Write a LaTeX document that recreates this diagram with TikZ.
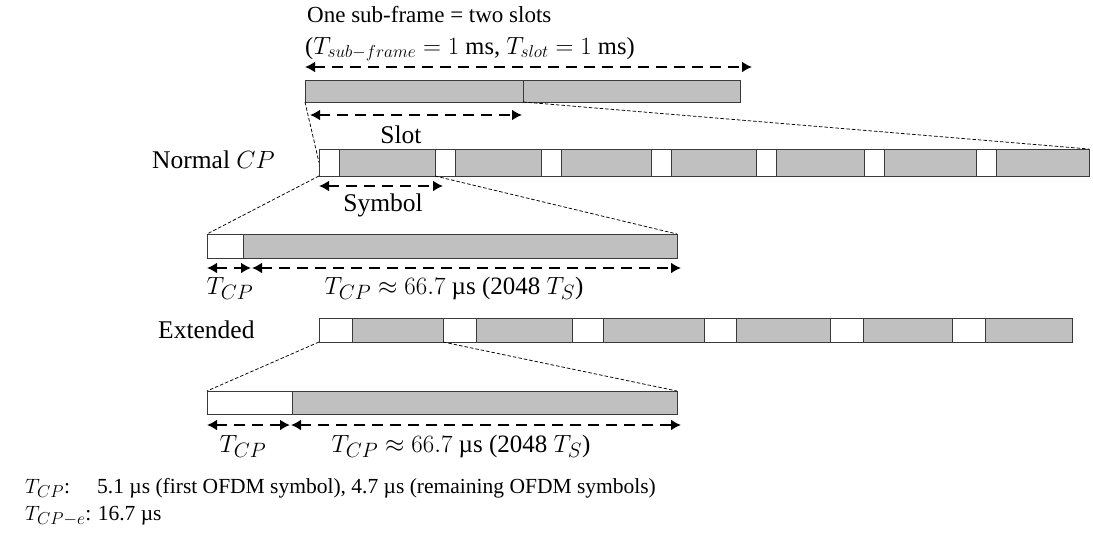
\documentclass[tikz,border=0pt]{standalone}
\usepackage{fontspec}
\setmainfont{Liberation Serif}
\usetikzlibrary{arrows.meta}
% larger sub- and superscripts for the labels
\DeclareMathSizes{21.5}{21.5}{16.5}{12.5}
\DeclareMathSizes{24.5}{24.5}{19}{14}
\DeclareMathSizes{25}{25}{19.5}{14.5}
\DeclareMathSizes{25.5}{25.5}{19.5}{14.5}
\definecolor{boxgray}{HTML}{C0C0C0}
\definecolor{edgegray}{HTML}{3A3A3A}
\tikzset{
  cell/.style={draw=edgegray, line width=0.9pt, inner sep=0pt, outer sep=0pt},
  cpbox/.style={cell, fill=white},
  databox/.style={cell, fill=boxgray},
  zoomline/.style={line width=0.75pt, dash pattern=on 3.5pt off 2pt},
  dimarrow/.style={line width=2pt, dash pattern=on 11pt off 7pt,
    {Latex[length=10pt,width=11pt]}-{Latex[length=10pt,width=11pt]}},
  lbl/.style={inner sep=0pt, font=\fontsize{23}{27}\selectfont},
  rowlbl/.style={inner sep=0pt, font=\fontsize{25.5}{30}\selectfont},
  dimlbl/.style={inner sep=0pt, font=\fontsize{25}{30}\selectfont},
  notelbl/.style={inner sep=0pt, font=\fontsize{21.5}{26}\selectfont},
}
% a rectangle node spanning x1..x2, y1..y2
\newcommand\cellbox[6]{%
  \node[#6, minimum width={(#3)-(#2)}, minimum height={(#5)-(#4)}]
    (#1) at ({((#2)+(#3))/2},{((#4)+(#5))/2}) {};}
\begin{document}
\begin{tikzpicture}[x=1pt, y=-1pt]
\useasboundingbox (0,0) rectangle (1093,546);

% sub-frame made of two slots
\cellbox{sfA}{305}{523}{80}{102}{databox}
\cellbox{sfB}{523}{740}{80}{102}{databox}
\node[lbl, anchor=base west] (sftitle) at (307,22) {One sub-frame = two slots};
\node[lbl, anchor=base west, font=\fontsize{24.5}{29}\selectfont] (sfdur) at (305,54)
  {($T_{sub-frame}=1$ ms, $T_{slot}=1$ ms)};
\coordinate (sfL) at (305,67);
\coordinate (sfR) at (752,67);
\draw[dimarrow] (sfL) -- (sfR);
\coordinate (slL) at (310,115);
\coordinate (slR) at (522,115);
\draw[dimarrow] (slL) -- (slR);
\node[rowlbl, anchor=base] (slotlbl) at (401,143) {Slot};

% normal cyclic prefix: seven symbols per slot
\foreach \a/\b/\c [count=\i] in {319/339/435, 435/455/541, 541/561/651,
    651/671/756, 756/776/864, 864/884/976, 976/996/1089}{
  \cellbox{dN\i}{\b}{\c}{149}{176}{databox}
  \cellbox{cpN\i}{\a}{\b}{149}{176}{cpbox}
}
\node[rowlbl, anchor=base west] (normallbl) at (152,168) {Normal $CP$};
\draw[zoomline] (sfA.south west) -- (cpN1.west);
\draw[zoomline] (sfA.south east) -- (dN7.north east);
\coordinate (syL) at (319,186);
\coordinate (syR) at (443,186);
\draw[dimarrow] (syL) -- (syR);
\node[rowlbl, anchor=base] (symlbl) at (383,211) {Symbol};

% one normal-CP symbol
\cellbox{zdN}{243}{677}{234}{258}{databox}
\cellbox{zcpN}{207}{243}{234}{258}{cpbox}
\draw[zoomline] (cpN1.south west) -- (zcpN.north west);
\draw[zoomline] (cpN2.south west) -- (zdN.north east);
\coordinate (ncpL) at (207,268);
\coordinate (ncpR) at (251,268);
\coordinate (ndL) at (252,268);
\coordinate (ndR) at (681,268);
\draw[dimarrow] (ncpL) -- (ncpR);
\draw[dimarrow] (ndL) -- (ndR);
\node[dimlbl, anchor=base] (ncplbl) at (230,294) {$T_{CP}$};
\node[dimlbl, anchor=base] (ndlbl) at (454,294) {$T_{CP}\approx 66.7$ µs (2048 $T_S$)};

% extended cyclic prefix: six symbols per slot
\foreach \a/\b/\c [count=\i] in {319/352/443, 443/476/572, 572/603/704,
    704/736/830, 830/863/952, 952/985/1072}{
  \cellbox{dE\i}{\b}{\c}{318}{342}{databox}
  \cellbox{cpE\i}{\a}{\b}{318}{342}{cpbox}
}
\node[rowlbl, anchor=base west] (extlbl) at (158,338) {Extended};

% one extended-CP symbol
\cellbox{zdE}{292}{677}{391}{414}{databox}
\cellbox{zcpE}{207}{292}{391}{414}{cpbox}
\draw[zoomline] (cpE1.south west) -- (zcpE.north west);
\draw[zoomline] (cpE2.south west) -- (zdE.north east);
\coordinate (ecpL) at (207,425);
\coordinate (ecpR) at (290,425);
\coordinate (edL) at (291,425);
\coordinate (edR) at (681,425);
\draw[dimarrow] (ecpL) -- (ecpR);
\draw[dimarrow] (edL) -- (edR);
\node[dimlbl, anchor=base] (ecplbl) at (243,452) {$T_{CP}$};
\node[dimlbl, anchor=base] (edlbl) at (461,452) {$T_{CP}\approx 66.7$ µs (2048 $T_S$)};

% legend
\node[notelbl, anchor=base west] (k1) at (25,493) {$T_{CP}$:};
\node[notelbl, anchor=base west] (v1) at (97,493) {5.1 µs (first OFDM symbol), 4.7 µs (remaining OFDM symbols)};
\node[notelbl, anchor=base west] (k2) at (25,520) {$T_{CP-e}$:};
\node[notelbl, anchor=base west] (v2) at ([xshift=6pt]k2.base east) {16.7 µs};
\end{tikzpicture}
\end{document}
